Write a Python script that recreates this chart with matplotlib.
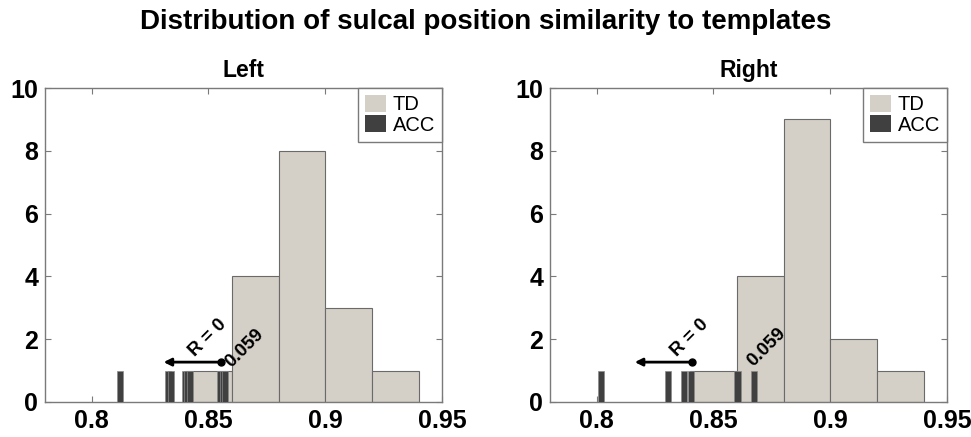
import numpy as np
import matplotlib
matplotlib.use('Agg')
import matplotlib.pyplot as plt
from matplotlib.patches import Patch

plt.rcParams['font.family'] = ['Liberation Sans', 'DejaVu Sans']

# TD histogram (bin edges shared), counts per hemisphere
bin_edges = [0.84, 0.86, 0.88, 0.90, 0.92, 0.94]
td_left = [1, 4, 8, 3, 1]
td_right = [1, 4, 9, 2, 1]

# ACC individual values (each drawn as a height-1 bar)
acc_left = [0.8120, 0.8327, 0.8338, 0.8398, 0.8410, 0.8420, 0.8550, 0.8562, 0.8572]
acc_right = [0.8020, 0.8304, 0.8373, 0.8402, 0.8603, 0.8674]

# annotation: R = 0 point, arrow tip, and 0.059 label position
ann_left = dict(dot=0.8552, tip=0.8308, r_txt=(0.8497, 2.05), p_txt=(0.8655, 1.72))
ann_right = dict(dot=0.8407, tip=0.8163, r_txt=(0.8397, 2.05), p_txt=(0.8728, 1.75))

td_col = '#d4d0c8'
acc_col = '#404040'
spine_col = '#7a7a7a'


def draw_panel(ax, td, acc, ann, title):
    widths = np.diff(bin_edges)
    ax.bar(bin_edges[:-1], td, width=widths, align='edge', color=td_col,
           edgecolor='#6a6a6a', linewidth=0.8, zorder=2)
    ax.bar(acc, np.ones(len(acc)), width=0.0026, color=acc_col,
           edgecolor='#8a8a8a', linewidth=0.5, zorder=3)

    y = 1.27
    ax.annotate('', xy=(ann['tip'], y), xytext=(ann['dot'], y),
                arrowprops=dict(arrowstyle='-|>', color='k', lw=2,
                                mutation_scale=11, shrinkA=0, shrinkB=0), zorder=4)
    ax.plot(ann['dot'], y, 'o', color='k', markersize=5, zorder=5)
    ax.text(*ann['r_txt'], 'R = 0', rotation=45, ha='center', va='center',
            rotation_mode='anchor', fontsize=13.5, fontweight='bold', zorder=5)
    ax.text(*ann['p_txt'], '0.059', rotation=45, ha='center', va='center',
            rotation_mode='anchor', fontsize=13.5, fontweight='bold', zorder=5)

    ax.set_xlim(0.78, 0.95)
    ax.set_ylim(0, 10)
    ax.set_xticks([0.8, 0.85, 0.9, 0.95])
    ax.set_xticklabels(['0.8', '0.85', '0.9', '0.95'])
    ax.set_yticks([0, 2, 4, 6, 8, 10])
    ax.tick_params(direction='in', top=True, right=True, length=4,
                   color=spine_col, labelsize=18, pad=5)
    for lab in ax.get_xticklabels() + ax.get_yticklabels():
        lab.set_fontweight('bold')
    for s in ax.spines.values():
        s.set_color(spine_col)
        s.set_linewidth(1.0)
    ax.set_title(title, fontsize=16.5, fontweight='bold', pad=8)

    handles = [Patch(facecolor=td_col, edgecolor='none', label='TD'),
               Patch(facecolor=acc_col, edgecolor='none', label='ACC')]
    leg = ax.legend(handles=handles, loc='upper right', fontsize=14.5,
                    handlelength=1.0, handleheight=0.9, handletextpad=0.35,
                    borderaxespad=0, fancybox=False, framealpha=1,
                    borderpad=0.35, labelspacing=0.05)
    leg.get_frame().set_edgecolor(spine_col)
    leg.get_frame().set_linewidth(1.0)


fig = plt.figure(figsize=(9.71, 4.37), dpi=100)
ax1 = fig.add_axes([0.0463, 0.0801, 0.4089, 0.7185])
ax2 = fig.add_axes([0.5664, 0.0801, 0.4089, 0.7185])

draw_panel(ax1, td_left, acc_left, ann_left, 'Left')
draw_panel(ax2, td_right, acc_right, ann_right, 'Right')

fig.text(0.5, 1 - 22 / 437, 'Distribution of sulcal position similarity to templates',
         ha='center', va='center', fontsize=20, fontweight='bold')

fig.savefig('out.png', dpi=100)
